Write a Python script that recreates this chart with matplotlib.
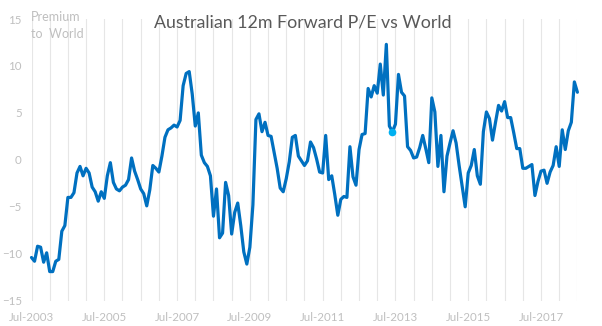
import matplotlib
matplotlib.use("Agg")
import matplotlib.pyplot as plt
import numpy as np
import pandas as pd

# Monthly premium of Australian 12m forward P/E over World, Jul-2003 .. Jul-2018
start_month = "2003-07"
premium = [
    -10.4, -10.8, -9.2, -9.3, -10.9, -9.9, -11.9, -11.9, -10.8, -10.6,
    -7.6, -7.0, -4.0, -4.0, -3.5, -1.4, -0.7, -1.7, -0.9, -1.4,
    -2.9, -3.4, -4.4, -3.4, -4.1, -1.7, -0.3, -2.4, -3.1, -3.3,
    -2.9, -2.7, -2.1, 0.2, -1.2, -2.1, -3.1, -3.6, -4.9, -3.2,
    -0.6, -0.9, -1.3, 0.4, 2.4, 3.2, 3.4, 3.7, 3.5, 4.2,
    7.9, 9.2, 9.4, 7.0, 3.6, 5.0, 0.5, -0.3, -0.7, -1.7,
    -6.0, -3.1, -8.3, -7.8, -2.4, -3.8, -7.9, -5.6, -4.6, -7.0,
    -9.8, -11.1, -9.3, -4.8, 4.3, 4.9, 3.0, 4.0, 2.6, 2.5,
    0.8, -0.9, -3.0, -3.4, -2.0, -0.2, 2.4, 2.6, 0.4, -0.1,
    -0.6, -0.1, 1.9, 1.3, 0.1, -1.3, -1.4, 2.6, -2.1, -1.7,
    -3.7, -5.9, -4.2, -3.9, -4.0, 1.4, -1.8, -2.7, 1.1, 2.7,
    2.8, 7.6, 6.7, 7.9, 7.1, 10.2, 6.9, 12.3, 3.6, 3.0,
    3.8, 9.1, 7.2, 6.8, 1.4, 1.0, 0.2, 0.3, 1.3, 2.6,
    1.2, -0.3, 6.6, 5.1, -0.7, 2.6, -3.4, 0.4, 1.8, 3.1,
    1.8, -0.6, -2.8, -5.0, -1.4, -0.6, 1.1, -1.7, -2.6, 3.0,
    5.1, 4.4, 2.1, 4.0, 5.8, 5.2, 6.2, 4.5, 4.5, 2.9,
    1.2, 1.2, -0.9, -0.9, -0.7, -0.5, -3.8, -2.3, -1.2, -1.1,
    -2.5, -1.3, -0.6, 1.4, -0.7, 3.2, 1.1, 3.1, 4.0, 8.3,
    7.2,
]
highlight_label = "2013-06"

months = pd.period_range(start_month, periods=len(premium), freq="M")
x = np.arange(len(premium))
y_ticks = [-15, -10, -5, 0, 5, 10, 15]
label_idx = [i for i, m in enumerate(months) if m.month == 7 and (m.year - 2003) % 2 == 0]
tick_labels = [months[i].strftime("%b-%Y") for i in label_idx]
grid_idx = list(range(0, len(premium), 6))
hi = list(months.strftime("%Y-%m")).index(highlight_label)

plt.rcParams["font.family"] = ["Lato", "DejaVu Sans"]

fig = plt.figure(figsize=(6.02, 3.26), dpi=100)
ax = fig.add_axes([31.5 / 602, 1 - 300.7 / 326, (577.4 - 31.5) / 602, (300.7 - 19) / 326])

for g in grid_idx:
    ax.axvline(g, color="#e6e6e6", lw=0.8, zorder=0)

ax.plot(x, premium, color="#0070C0", lw=2.3, solid_joinstyle="round",
        solid_capstyle="round", clip_on=False, zorder=2)
ax.plot([x[hi]], [premium[hi]], "o", color="#00B0F0", ms=5.5, mec="none",
        zorder=3)

ax.set_xlim(0, len(premium) - 1)
ax.set_ylim(-15, 15)
ax.set_yticks(y_ticks)
ax.set_xticks(label_idx)
ax.set_xticklabels(tick_labels)
ax.tick_params(axis="both", length=0, labelsize=8.3, labelcolor="#bfbfbf")
ax.tick_params(axis="y", pad=7)
ax.tick_params(axis="x", pad=8)
for s in ax.spines.values():
    s.set_visible(False)

fig.text(303 / 602, 1 - 22 / 326, "Australian 12m Forward P/E vs World",
         ha="center", va="center", fontsize=12.8, color="#595959")
fig.text(31 / 602, 1 - 11 / 326, "Premium\nto  World", ha="left", va="top",
         fontsize=9, color="#bfbfbf", linespacing=1.5)

fig.savefig("out.png", dpi=100)
